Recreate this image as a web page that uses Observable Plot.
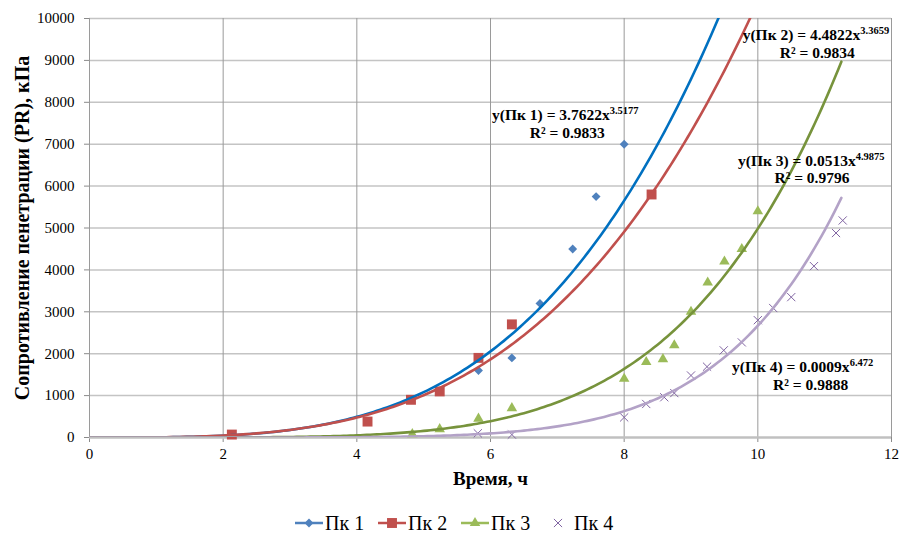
<!DOCTYPE html>
<html>
<head>
<meta charset="utf-8">
<script src="https://cdn.jsdelivr.net/npm/d3@7"></script>
<script src="https://cdn.jsdelivr.net/npm/@observablehq/plot@0.6"></script>
<style>
  html, body { margin: 0; padding: 0; background: #fff; }
  #chart svg { display: block; }
  #chart svg text { font-family: "Liberation Serif", serif !important; }
  #legend { display: flex; justify-content: flex-start; align-items: center; height: 26px;
            font-family: "Liberation Serif", serif !important; font-size: 20px; color: #000; padding-left: 295px; }
  #legend span { font-family: "Liberation Serif", serif !important; }
  #legend .item { display: flex; align-items: center; width: 83px; }
  #legend svg { margin-right: 2px; }
</style>
</head>
<body>
<div id="chart"></div>
<div id="legend"></div>
<script>
// ---- data ----
const seriesNames = ["Пк 1", "Пк 2", "Пк 3", "Пк 4"];

const pk1X = [5.82, 6.32, 6.74, 7.23, 7.58, 8.0];
const pk1Y = [1600, 1900, 3200, 4500, 5750, 7000];

const pk2X = [2.13, 4.16, 4.81, 5.24, 5.82, 6.32, 8.41];
const pk2Y = [70, 380, 900, 1100, 1900, 2700, 5800];

const pk3X = [4.83, 5.24, 5.82, 6.32, 8.0, 8.33, 8.58, 8.75, 9.0, 9.25, 9.5, 9.76, 10.0];
const pk3Y = [80, 200, 450, 700, 1400, 1800, 1870, 2200, 3000, 3700, 4200, 4500, 5400];

const pk4X = [5.81, 6.32, 8.0, 8.33, 8.6, 8.75, 9.0, 9.24, 9.49, 9.76, 10.0, 10.23, 10.5, 10.84, 11.17, 11.27];
const pk4Y = [100, 70, 480, 800, 960, 1060, 1480, 1690, 2080, 2270, 2800, 3090, 3350, 4090, 4880, 5180];

// power trendlines y = a * x^b (from the chart's equations)
const trendA = [3.7622, 4.4822, 0.0513, 0.0009];
const trendB = [3.5177, 3.3659, 4.9875, 6.472];
const trendR2 = ["0.9833", "0.9834", "0.9796", "0.9888"];
const trendXMax = 11.25;

const xTicks = [0, 2, 4, 6, 8, 10, 12];
const yTicks = [0, 1000, 2000, 3000, 4000, 5000, 6000, 7000, 8000, 9000, 10000];

// label anchor positions (data units)
const eqX1 = [7.12, 10.87, 10.80, 10.67];
const eqY1 = [7685, 9594, 6594, 1678];
const eqX2 = [7.15, 10.89, 10.81, 10.79];
const eqY2 = [7263, 9181, 6198, 1241];

const xTitle = "Время, ч";
const yTitle = "Сопротивление пенетрации (PR), кПа";

// ---- styles ----
const markerColors = ["#4F81BD", "#C0504D", "#9BBB59", "#8064A2"];
const lineColors = ["#0070C0", "#C0504D", "#77933C", "#B3A2C7"];
const symbols = ["diamond2", "square", "triangle", "times"];
const radii = [4.0, 5.6, 3.9, 3.8];

// ---- build tables ----
const allX = [pk1X, pk2X, pk3X, pk4X];
const allY = [pk1Y, pk2Y, pk3Y, pk4Y];
const points = allX.map((xs, i) => xs.map((x, j) => ({x, y: allY[i][j], s: i})));
const curveX = d3.range(0, trendXMax + 1e-9, 0.05);
const curves = trendA.map((a, i) => curveX.map(x => ({x, y: a * Math.pow(x, trendB[i]), s: i})));
const eqLabels = [];
seriesNames.forEach((n, i) => {
  eqLabels.push({x: eqX1[i], y: eqY1[i], t: `y(${n}) = ${trendA[i]}x^${trendB[i]}`});
  eqLabels.push({x: eqX2[i], y: eqY2[i], t: `R² = ${trendR2[i]}`});
});

const marks = [
  Plot.ruleY(yTicks.slice(1), {y: d => d, stroke: "#c4c4c4", strokeWidth: 1.5}),
  Plot.ruleX(xTicks, {x: d => d, stroke: "#9a9a9a", strokeWidth: 1}),
  Plot.ruleY([0], {y: d => d, stroke: "#c0c0c0", strokeWidth: 2.5})
];
points.forEach((pts, i) => {
  if (symbols[i] === "times") {
    marks.push(Plot.dot(pts, {x: "x", y: "y", symbol: symbols[i], r: radii[i], stroke: markerColors[i], fill: "none", strokeWidth: 1}));
  } else {
    marks.push(Plot.dot(pts, {x: "x", y: "y", symbol: symbols[i], r: radii[i], fill: markerColors[i], stroke: "none"}));
  }
});
curves.forEach((c, i) => {
  marks.push(Plot.line(c, {x: "x", y: "y", stroke: lineColors[i], strokeWidth: 2.6, clip: true}));
});
marks.push(Plot.text(eqLabels, {x: "x", y: "y", text: "t", fontWeight: "bold", fontSize: 15.5, fill: "#000", textAnchor: "middle"}));
marks.push(Plot.text([xTitle], {text: d => d, frameAnchor: "bottom", dy: 41, fontWeight: "bold", fontSize: 19, textAnchor: "middle", lineAnchor: "middle", fill: "#000"}));
marks.push(Plot.text([yTitle], {text: d => d, frameAnchor: "left", dx: -67, rotate: -90, fontWeight: "bold", fontSize: 20, textAnchor: "middle", lineAnchor: "middle", fill: "#000"}));

const chart = Plot.plot({
  width: 901,
  height: 510,
  marginTop: 18,
  marginLeft: 89,
  marginRight: 10,
  marginBottom: 73,
  x: {domain: [0, 12], ticks: xTicks, tickSize: 5, tickPadding: 6, label: null},
  y: {domain: [0, 10000], ticks: yTicks, tickFormat: d3.format("d"), tickSize: 5, tickPadding: 10, label: null},
  style: {fontFamily: "Liberation Serif", fontSize: "15px", color: "#000", background: "#fff"},
  marks
});
document.getElementById("chart").appendChild(chart);

// superscripts for exponents
chart.querySelectorAll("text").forEach(t => {
  t.setAttribute("font-family", "Liberation Serif");
  if (t.childElementCount === 0 && t.textContent.includes("^")) {
    const [base, exp] = t.textContent.split("^");
    t.textContent = "";
    const ns = "http://www.w3.org/2000/svg";
    const b = document.createElementNS(ns, "tspan"); b.textContent = base; t.appendChild(b);
    const e = document.createElementNS(ns, "tspan"); e.textContent = exp;
    e.setAttribute("dy", "-6"); e.setAttribute("font-size", "10.5"); t.appendChild(e);
  }
});
// grey tick marks
chart.querySelectorAll('g[aria-label$="tick"] path, g[aria-label$="tick"] line').forEach(p => p.setAttribute("stroke", "#8a8a8a"));

// legend
const legend = d3.select("#legend");
seriesNames.forEach((n, i) => {
  const item = legend.append("div").attr("class", "item");
  const s = item.append("svg").attr("width", 28).attr("height", 16);
  if (symbols[i] !== "times") {
    s.append("line").attr("x1", 0).attr("x2", 28).attr("y1", 8).attr("y2", 8).attr("stroke", markerColors[i]).attr("stroke-width", 2.5);
  }
  const sym = {diamond2: d3.symbolDiamond2, square: d3.symbolSquare, triangle: d3.symbolTriangle, times: d3.symbolTimes}[symbols[i]];
  const p = s.append("path").attr("transform", "translate(14,8)").attr("d", d3.symbol(sym, radii[i] * radii[i] * Math.PI)());
  if (symbols[i] === "times") p.attr("fill", "none").attr("stroke", markerColors[i]).attr("stroke-width", 1);
  else p.attr("fill", markerColors[i]);
  item.append("span").text(n);
});
</script>
</body>
</html>
